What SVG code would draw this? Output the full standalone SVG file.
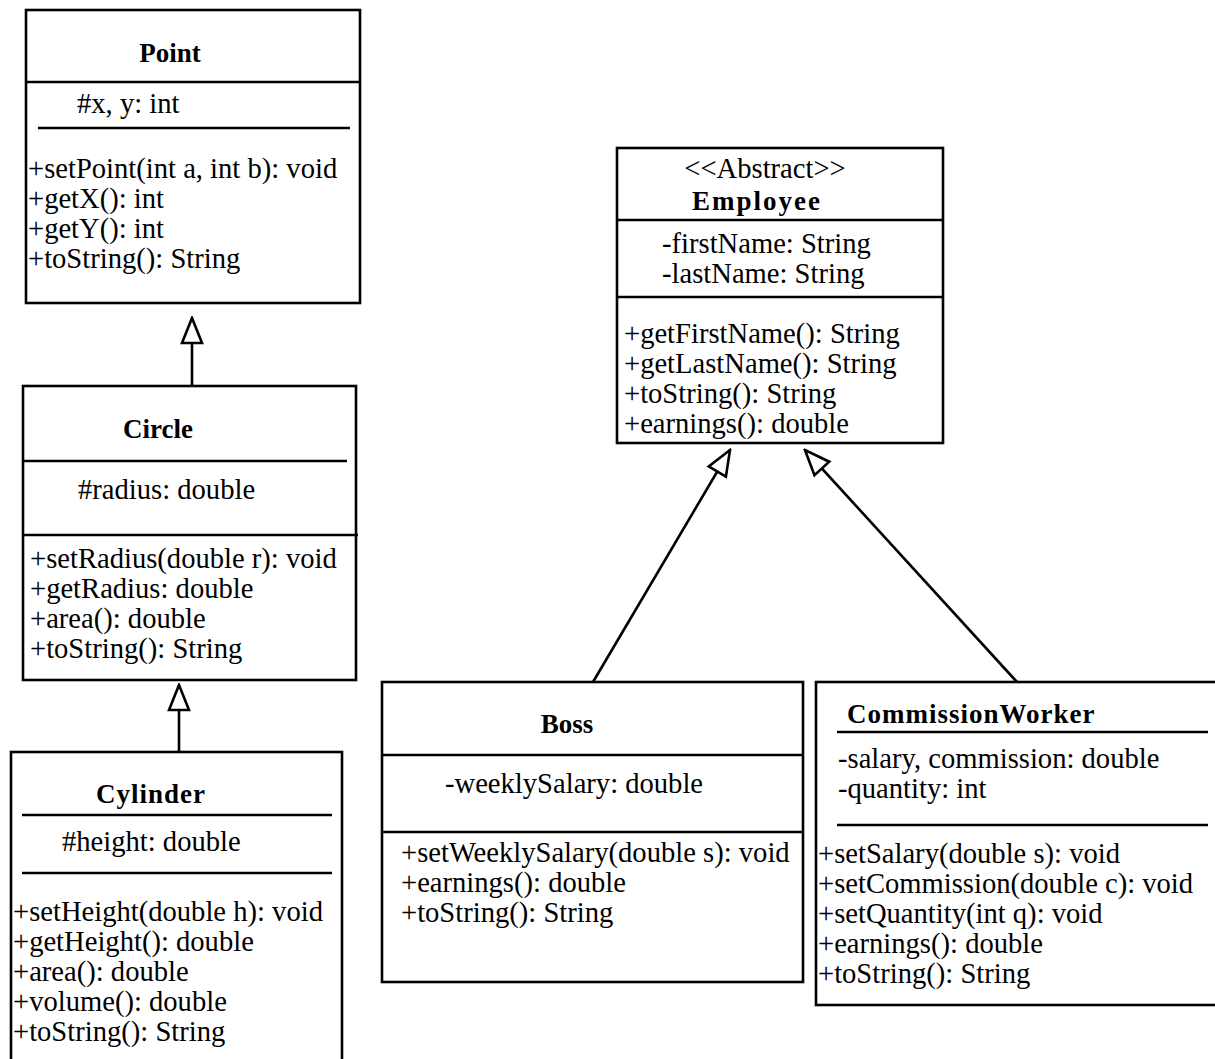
<svg xmlns="http://www.w3.org/2000/svg" width="1215" height="1059" viewBox="0 0 1215 1059">
  <style>
    .box { fill: #ffffff; stroke: #000000; stroke-width: 2.6; }
    .sep { stroke: #000000; stroke-width: 2.6; fill: none; }
    .edge { stroke: #000000; stroke-width: 2.6; fill: none; marker-end: url(#inherit); }
    text { font-family: "Liberation Serif", "Times New Roman", serif; font-size: 28.6px; fill: #000000; }
    .title { font-weight: bold; font-size: 27px; text-anchor: middle; }
    .left { text-anchor: start; }
  </style>
  <defs>
    <!-- hollow generalization arrowhead -->
    <marker id="inherit" markerUnits="userSpaceOnUse" viewBox="-2 -2 29 24" markerWidth="29" markerHeight="24" refX="25" refY="10" orient="auto">
      <path d="M0,0 L25,10 L0,20 Z" fill="#ffffff" stroke="#000000" stroke-width="2.6" stroke-linejoin="miter"/>
    </marker>
  </defs>

  <!-- Point -->
  <g id="point">
    <rect class="box" x="26" y="10" width="334" height="293"/>
    <line class="sep" x1="26" y1="82" x2="360" y2="82"/>
    <line class="sep" x1="38" y1="128" x2="350" y2="128"/>
    <text class="title" x="170" y="62">Point</text>
    <text x="77" y="113">#x, y: int</text>
    <text x="28" y="178">+setPoint(int a, int b): void</text>
    <text x="28" y="208">+getX(): int</text>
    <text x="28" y="238">+getY(): int</text>
    <text x="28" y="268">+toString(): String</text>
  </g>

  <!-- Circle -->
  <g id="circle">
    <rect class="box" x="23" y="386" width="333" height="294"/>
    <line class="sep" x1="23" y1="461" x2="347" y2="461"/>
    <line class="sep" x1="23" y1="535" x2="358" y2="535"/>
    <text class="title" x="158" y="438">Circle</text>
    <text x="78" y="499">#radius: double</text>
    <text x="30" y="568">+setRadius(double r): void</text>
    <text x="30" y="598">+getRadius: double</text>
    <text x="30" y="628">+area(): double</text>
    <text x="30" y="658">+toString(): String</text>
  </g>

  <!-- Cylinder -->
  <g id="cylinder">
    <rect class="box" x="11" y="752" width="331" height="330"/>
    <line class="sep" x1="22" y1="815" x2="332" y2="815"/>
    <line class="sep" x1="22" y1="873" x2="332" y2="873"/>
    <text class="title" x="151" y="803" letter-spacing="1">Cylinder</text>
    <text x="62" y="851">#height: double</text>
    <text x="13" y="921">+setHeight(double h): void</text>
    <text x="13" y="951">+getHeight(): double</text>
    <text x="13" y="981">+area(): double</text>
    <text x="13" y="1011">+volume(): double</text>
    <text x="13" y="1041">+toString(): String</text>
  </g>

  <!-- Employee -->
  <g id="employee">
    <rect class="box" x="617" y="148" width="326" height="295"/>
    <line class="sep" x1="617" y1="220" x2="943" y2="220"/>
    <line class="sep" x1="617" y1="297" x2="943" y2="297"/>
    <text x="765" y="178" text-anchor="middle">&lt;&lt;Abstract&gt;&gt;</text>
    <text class="title" x="757" y="210" letter-spacing="2">Employee</text>
    <text x="662" y="253">-firstName: String</text>
    <text x="662" y="283">-lastName: String</text>
    <text x="624" y="343">+getFirstName(): String</text>
    <text x="624" y="373">+getLastName(): String</text>
    <text x="624" y="403">+toString(): String</text>
    <text x="624" y="433">+earnings(): double</text>
  </g>

  <!-- Boss -->
  <g id="boss">
    <rect class="box" x="382" y="682" width="421" height="300"/>
    <line class="sep" x1="382" y1="755" x2="803" y2="755"/>
    <line class="sep" x1="382" y1="832" x2="803" y2="832"/>
    <text class="title" x="567" y="733">Boss</text>
    <text x="445" y="793">-weeklySalary: double</text>
    <text x="401" y="862">+setWeeklySalary(double s): void</text>
    <text x="401" y="892">+earnings(): double</text>
    <text x="401" y="922">+toString(): String</text>
  </g>

  <!-- CommissionWorker -->
  <g id="commissionworker">
    <rect class="box" x="816" y="682" width="410" height="323"/>
    <line class="sep" x1="837" y1="732" x2="1208" y2="732"/>
    <line class="sep" x1="837" y1="825" x2="1208" y2="825"/>
    <text class="title left" x="847" y="723" letter-spacing="1">CommissionWorker</text>
    <text x="838" y="768">-salary, commission: double</text>
    <text x="838" y="798">-quantity: int</text>
    <text x="818" y="863">+setSalary(double s): void</text>
    <text x="818" y="893">+setCommission(double c): void</text>
    <text x="818" y="923">+setQuantity(int q): void</text>
    <text x="818" y="953">+earnings(): double</text>
    <text x="818" y="983">+toString(): String</text>
  </g>

  <!-- generalization connectors -->
  <g id="connectors">
    <line class="edge" x1="192" y1="386" x2="192" y2="318"/>
    <line class="edge" x1="179" y1="752" x2="179" y2="685"/>
    <line class="edge" x1="593" y1="682" x2="730" y2="450"/>
    <line class="edge" x1="1017" y1="682" x2="805" y2="450"/>
  </g>
</svg>
